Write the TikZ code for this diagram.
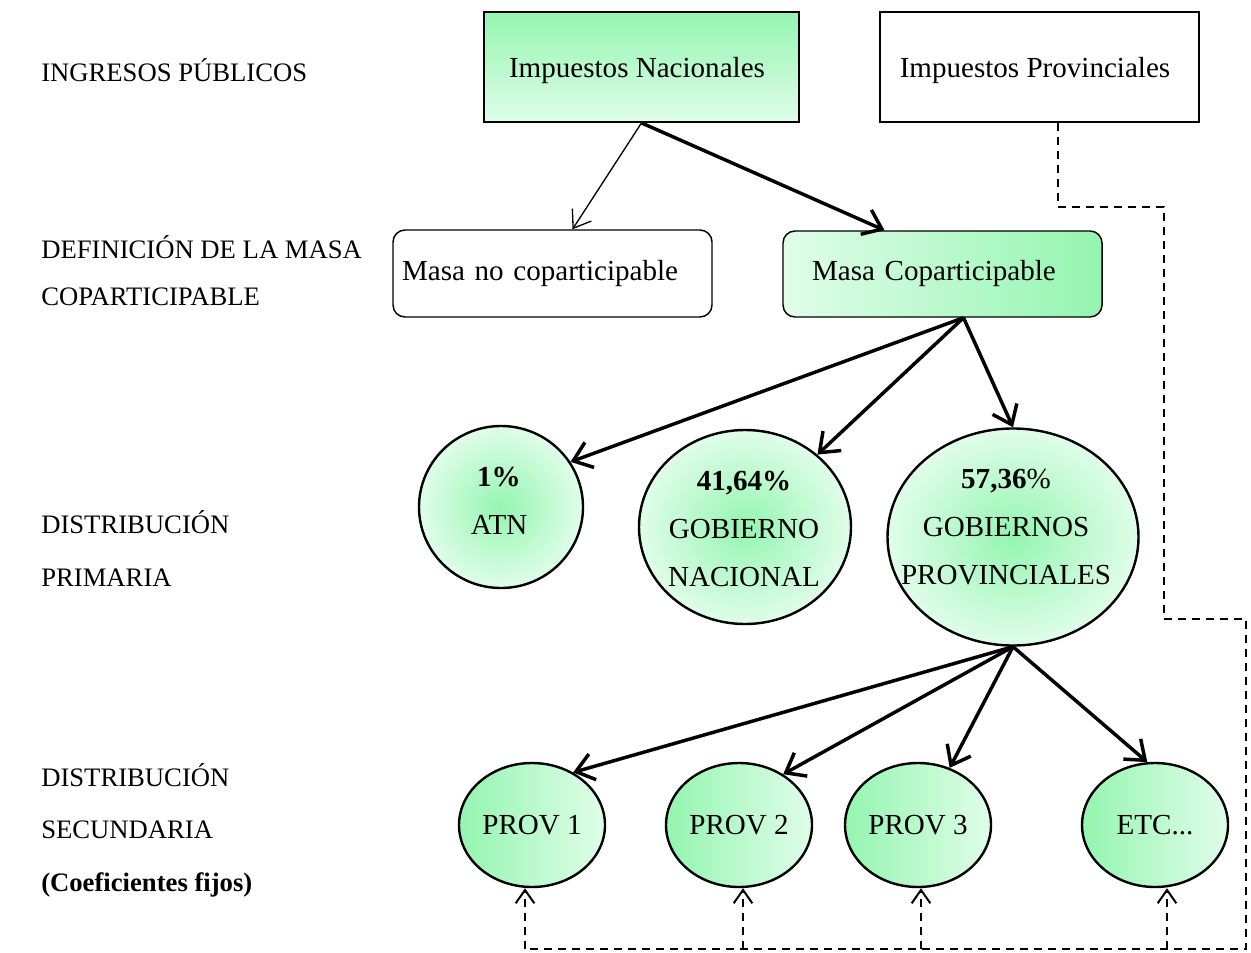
\documentclass[tikz,border=0pt]{standalone}
\usepackage{fontspec}
\setmainfont{Liberation Serif}
\usepackage{tikz}
\usetikzlibrary{shapes.geometric,arrows.meta,calc}

\definecolor{verdeosc}{RGB}{148,245,176}
\definecolor{verdecla}{RGB}{224,253,233}

\tikzset{
  texto/.style={inner sep=0.75pt, font=\fontsize{21.8}{36}\selectfont},
  rotulo/.style={inner sep=0.75pt, anchor=west, font=\fontsize{20}{30}\selectfont},
  caja/.style={draw, line width=1.4pt, inner sep=0pt},
  masa/.style={draw, line width=1.1pt, rounded corners=9pt, align=left, font=\fontsize{21.8}{36}\selectfont},
  globo/.style={ellipse, draw, line width=1.8pt, inner sep=0pt, inner color=verdeosc, outer color=verdecla},
  prov/.style={ellipse, draw, line width=1.8pt, inner sep=0pt, minimum width=109.5pt, minimum height=93pt,
    left color=verdeosc, right color=verdecla, font=\fontsize{21.8}{36}\selectfont},
  flecha/.style={line width=2.6pt, -{Straight Barb[length=13pt,width=20pt]}},
  flechafina/.style={line width=1pt, -{Straight Barb[length=12pt,width=17pt]}},
  punteada/.style={line width=1.5pt, dash pattern=on 6pt off 4.5pt},
  punteadaflecha/.style={punteada, -{Straight Barb[length=10pt,width=14pt]}}
}

\begin{document}
\begin{tikzpicture}[x=0.75pt,y=0.75pt,yscale=-1,xscale=1]
\useasboundingbox (0,0) rectangle (1251,952);

% etiquetas de la izquierda
\node[rotulo] (ingresos) at (40,70) {INGRESOS PÚBLICOS};
\node[rotulo] (defin) at (40,247) {DEFINICIÓN DE LA MASA};
\node[rotulo] (copart) at (40,297) {COPARTICIPABLE};
\node[rotulo] (distp) at (40,522) {DISTRIBUCIÓN};
\node[rotulo] (prim) at (40,578) {PRIMARIA};
\node[rotulo] (dists) at (40,775) {DISTRIBUCIÓN};
\node[rotulo] (secund) at (40,830) {SECUNDARIA};
\node[rotulo] (coef) at (40,885) {\textbf{(Coeficientes fijos)}};

% ingresos publicos
\node[caja, minimum width=236.25pt, minimum height=82.5pt, top color=verdeosc, bottom color=verdecla] (nac) at (641.5,67) {};
\node[caja, minimum width=239.25pt, minimum height=82.5pt] (prv) at (1039.5,67) {};
\node[texto] (nactxt) at (637,71) {Impuestos Nacionales};
\node[texto] (prvtxt) at (1035,71) {Impuestos Provinciales};

% masa coparticipable
\node[masa, text width=225.75pt, inner xsep=6.75pt, minimum height=65.25pt] (mnc) at (552.5,273.5) {Masa no coparticipable};
\node[masa, text width=195.75pt, inner xsep=21.75pt, minimum height=64.5pt, left color=verdecla, right color=verdeosc] (mc) at (942.5,274) {Masa Coparticipable};

% distribucion primaria
\node[globo, minimum width=123pt, minimum height=121.5pt] (atn) at (501,507) {};
\node[globo, minimum width=159pt, minimum height=145.5pt] (gn) at (745,527) {};
\node[globo, minimum width=188.25pt, minimum height=162.75pt] (gp) at (1013,537) {};
\node[texto, align=center] (atntxt) at (499,501) {\textbf{1\%}\\ATN};
\node[texto, align=center] (gntxt) at (744,529) {\textbf{41,64\%}\\GOBIERNO\\NACIONAL};
\node[texto, align=center] (gptxt) at (1006,527) {\textbf{57,36}\%\\GOBIERNOS\\PROVINCIALES};

% distribucion secundaria
\node[prov] (p1) at (532,825) {PROV 1};
\node[prov] (p2) at (739,825) {PROV 2};
\node[prov] (p3) at (918,825) {PROV 3};
\node[prov] (etc) at (1155,825) {ETC...};

% flechas
\draw[flechafina] (nac.south) -- ($(mnc.north)+(20,0)$);
\draw[flecha] (nac.south) -- ($(mc.north)+(-58,0)$);
\draw[flecha] ($(mc.south)+(21,0)$) -- (atn.33);
\draw[flecha] ($(mc.south)+(21,0)$) -- (gn.45);
\draw[flecha] ($(mc.south)+(21,0)$) -- (gp.north);
\draw[flecha] (gp.south) -- (p1.52);
\draw[flecha] (gp.south) -- (p2.49);
\draw[flecha] (gp.south) -- (p3.61);
\draw[flecha] (gp.south) -- (etc.97);

% impuestos provinciales hacia las provincias
\coordinate (b1) at (525,949);
\coordinate (b2) at (743,949);
\coordinate (b3) at (921,949);
\coordinate (b4) at (1167,949);
\draw[punteada] ($(prv.south)+(18,0)$) -- ++(0,84) -- ++(106,0) -- ++(0,412) -- ++(82,0) |- (b1);
\draw[punteadaflecha] (b1) -- (b1 |- p1.south);
\draw[punteadaflecha] (b2) -- (b2 |- p2.south);
\draw[punteadaflecha] (b3) -- (b3 |- p3.south);
\draw[punteadaflecha] (b4) -- (b4 |- etc.south);
\end{tikzpicture}
\end{document}
